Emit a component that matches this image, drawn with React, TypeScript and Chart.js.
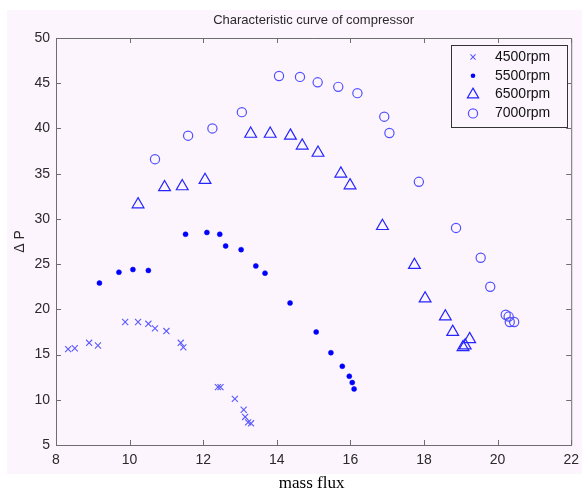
import React, { useEffect, useRef } from 'react';
import { Chart, registerables } from 'chart.js';

Chart.register(...registerables);

const chartTitle = 'Characteristic curve of compressor';
const xLabel = 'mass flux';
const yLabel = 'Δ P';
const seriesNames = ['4500rpm', '5500rpm', '6500rpm', '7000rpm'];
const xTickValues = [8, 10, 12, 14, 16, 18, 20, 22];
const yTickValues = [5, 10, 15, 20, 25, 30, 35, 40, 45, 50];

const flux4500 = [8.33, 8.51, 8.9, 9.14, 9.88, 10.23, 10.51, 10.69, 11.0, 11.39, 11.46, 12.4, 12.47, 12.86, 13.1, 13.14, 13.22, 13.3];
const dp4500 = [15.6, 15.7, 16.3, 16.0, 18.6, 18.6, 18.4, 17.9, 17.6, 16.3, 15.8, 11.4, 11.4, 10.1, 8.9, 8.1, 7.5, 7.4];

const flux5500 = [9.18, 9.71, 10.09, 10.51, 11.52, 12.1, 12.45, 12.61, 13.03, 13.43, 13.68, 14.36, 15.07, 15.47, 15.78, 15.97, 16.05, 16.1];
const dp5500 = [22.9, 24.1, 24.4, 24.3, 28.3, 28.5, 28.3, 27.0, 26.6, 24.8, 24.0, 20.7, 17.5, 15.2, 13.7, 12.6, 11.9, 11.2];

const flux6500 = [10.23, 10.95, 11.43, 12.05, 13.29, 13.82, 14.37, 14.69, 15.12, 15.74, 15.99, 16.87, 17.74, 18.03, 18.58, 18.78, 19.06, 19.12, 19.24];
const dp6500 = [31.6, 33.5, 33.6, 34.3, 39.4, 39.4, 39.2, 38.1, 37.3, 35.0, 33.7, 29.2, 24.9, 21.2, 19.2, 17.5, 15.8, 16.0, 16.7];

const flux7000 = [10.69, 11.59, 12.25, 13.05, 14.06, 14.63, 15.11, 15.67, 16.19, 16.92, 17.06, 17.86, 18.87, 19.54, 19.8, 20.22, 20.3, 20.33, 20.45];
const dp7000 = [36.6, 39.2, 40.0, 41.8, 45.8, 45.7, 45.1, 44.6, 43.9, 41.3, 39.5, 34.1, 29.0, 25.7, 22.5, 19.4, 19.2, 18.6, 18.6];

const BG = '#fdf5fd';
const AXIS = '#6e6e6e';
const TEXT = '#2a2a2a';
const SANS = '"Liberation Sans", Arial, sans-serif';

const toPts = (xs: number[], ys: number[]) => xs.map((x, i) => ({ x, y: ys[i] }));

function drawMarker(ctx: CanvasRenderingContext2D, style: string, r: number, x: number, y: number, stroke: string, fill: string, lw: number) {
  ctx.save();
  ctx.strokeStyle = stroke;
  ctx.fillStyle = fill;
  ctx.lineWidth = lw;
  ctx.beginPath();
  if (style === 'crossRot') {
    const d = r * Math.SQRT1_2;
    ctx.moveTo(x - d, y - d);
    ctx.lineTo(x + d, y + d);
    ctx.moveTo(x + d, y - d);
    ctx.lineTo(x - d, y + d);
    ctx.stroke();
  } else if (style === 'triangle') {
    const h = r * Math.sin(Math.PI / 3);
    ctx.moveTo(x, y - r);
    ctx.lineTo(x + h, y + r / 2);
    ctx.lineTo(x - h, y + r / 2);
    ctx.closePath();
    ctx.stroke();
  } else if (style === 'dot') {
    ctx.arc(x, y, r, 0, Math.PI * 2);
    ctx.fill();
  } else {
    ctx.arc(x, y, r, 0, Math.PI * 2);
    ctx.stroke();
  }
  ctx.restore();
}

const decorPlugin = {
  id: 'decor',
  beforeDraw(chart: any) {
    const ctx = chart.ctx;
    ctx.save();
    ctx.fillStyle = '#ffffff';
    ctx.fillRect(0, 0, chart.width, chart.height);
    ctx.fillStyle = BG;
    ctx.fillRect(7, 10, 575, 464);
    ctx.restore();
  },
  afterDraw(chart: any) {
    const ctx = chart.ctx;
    const a = chart.chartArea;
    const xs = chart.scales.x;
    const ys = chart.scales.y;
    ctx.save();
    ctx.strokeStyle = AXIS;
    ctx.lineWidth = 1;
    ctx.beginPath();
    ctx.moveTo(a.left, a.top + 0.5);
    ctx.lineTo(a.right + 0.5, a.top + 0.5);
    ctx.lineTo(a.right + 0.5, a.bottom);
    ctx.stroke();
    const tl = 5;
    ctx.beginPath();
    xTickValues.forEach((v) => {
      const px = Math.round(xs.getPixelForValue(v)) + 0.5;
      ctx.moveTo(px, a.bottom);
      ctx.lineTo(px, a.bottom - tl);
      ctx.moveTo(px, a.top);
      ctx.lineTo(px, a.top + tl);
    });
    yTickValues.forEach((v) => {
      const py = Math.round(ys.getPixelForValue(v)) + 0.5;
      ctx.moveTo(a.left, py);
      ctx.lineTo(a.left + tl, py);
      ctx.moveTo(a.right, py);
      ctx.lineTo(a.right - tl, py);
    });
    ctx.stroke();

    ctx.fillStyle = TEXT;
    ctx.font = `13px ${SANS}`;
    ctx.textAlign = 'center';
    ctx.textBaseline = 'middle';
    ctx.fillText(chartTitle, (a.left + a.right) / 2, 20);

    ctx.fillStyle = '#000';
    ctx.font = `17px "Liberation Serif", "Times New Roman", serif`;
    ctx.fillText(xLabel, (a.left + a.right) / 2 - 2, 484);

    ctx.save();
    ctx.translate(20, (a.top + a.bottom) / 2);
    ctx.rotate(-Math.PI / 2);
    ctx.fillStyle = TEXT;
    ctx.font = `14px ${SANS}`;
    ctx.fillText(yLabel, 0, 0);
    ctx.restore();

    const lx = 451.5, ly = 45.5, lw = 116, lh = 82;
    ctx.fillStyle = BG;
    ctx.fillRect(lx, ly, lw, lh);
    ctx.strokeStyle = '#333';
    ctx.lineWidth = 1;
    ctx.strokeRect(lx, ly, lw, lh);
    ctx.font = `14px ${SANS}`;
    ctx.textAlign = 'left';
    ctx.textBaseline = 'middle';
    const legendStyles = ['crossRot', 'dot', 'triangle', 'circle'];
    const legendRadii = [3.6, 2.3, 6.5, 4.6];
    chart.data.datasets.forEach((ds: any, i: number) => {
      const cy = 57 + i * 18.8;
      drawMarker(ctx, legendStyles[i], legendRadii[i], 473, cy, ds.borderColor, ds.backgroundColor, ds.borderWidth);
      ctx.fillStyle = '#111';
      ctx.fillText(ds.label, 495, cy);
    });
    ctx.restore();
  },
};

export default function App() {
  const ref = useRef<HTMLCanvasElement>(null);
  useEffect(() => {
    if (!ref.current) return;
    const chart = new Chart(ref.current, {
      type: 'scatter',
      data: {
        datasets: [
          {
            label: seriesNames[0],
            data: toPts(flux4500, dp4500),
            pointStyle: 'crossRot',
            pointRadius: 4.3,
            borderColor: '#5a5aff',
            backgroundColor: 'rgba(0,0,0,0)',
            borderWidth: 1.1,
          },
          {
            label: seriesNames[1],
            data: toPts(flux5500, dp5500),
            pointStyle: 'circle',
            pointRadius: 2.5,
            borderColor: '#0000ff',
            backgroundColor: '#0000ff',
            borderWidth: 0.5,
          },
          {
            label: seriesNames[2],
            data: toPts(flux6500, dp6500),
            pointStyle: 'triangle',
            pointRadius: 6.8,
            borderColor: '#2525ff',
            backgroundColor: 'rgba(0,0,0,0)',
            borderWidth: 1.2,
          },
          {
            label: seriesNames[3],
            data: toPts(flux7000, dp7000),
            pointStyle: 'circle',
            pointRadius: 4.6,
            borderColor: '#5050ff',
            backgroundColor: 'rgba(0,0,0,0)',
            borderWidth: 1.2,
          },
        ],
      },
      options: {
        responsive: false,
        animation: false,
        layout: { padding: { left: 0, top: 38, right: 10, bottom: 0 } },
        plugins: {
          legend: { display: false },
          title: { display: false },
          tooltip: { enabled: false },
        },
        scales: {
          x: {
            type: 'linear',
            min: 8,
            max: 22,
            afterFit: (s: any) => { s.height = 47; },
            afterBuildTicks: (s: any) => { s.ticks = xTickValues.map((v) => ({ value: v })); },
            grid: { display: false, drawTicks: false },
            border: { display: true, color: AXIS, width: 1 },
            ticks: { color: TEXT, font: { family: SANS, size: 14 }, padding: 7, maxRotation: 0, autoSkip: false },
          },
          y: {
            type: 'linear',
            min: 5,
            max: 50,
            afterFit: (s: any) => { s.width = 56; },
            afterBuildTicks: (s: any) => { s.ticks = yTickValues.map((v) => ({ value: v })); },
            grid: { display: false, drawTicks: false },
            border: { display: true, color: AXIS, width: 1 },
            ticks: { color: TEXT, font: { family: SANS, size: 14 }, padding: 6, autoSkip: false },
          },
        },
      } as any,
      plugins: [decorPlugin],
    });
    return () => chart.destroy();
  }, []);
  return (
    <div style={{ position: 'fixed', left: 0, top: 0, width: 586, height: 492, background: '#fff' }}>
      <canvas ref={ref} width={586} height={492} style={{ display: 'block', width: 586, height: 492 }} />
    </div>
  );
}
